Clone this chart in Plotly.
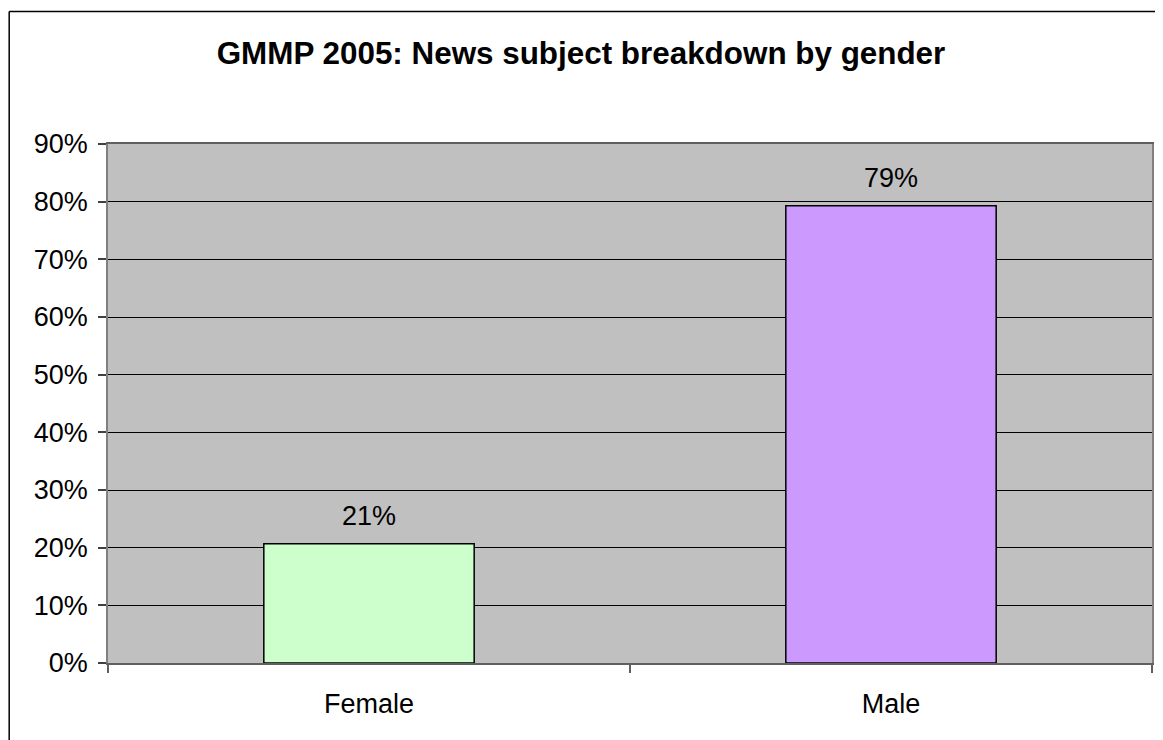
import plotly.graph_objects as go

categories = ["Female", "Male"]
values = [0.207, 0.793]
labels = ["21%", "79%"]
colors = ["#CCFFCC", "#CC99FF"]
title_text = "GMMP 2005: News subject breakdown by gender"

FONT = "Liberation Sans, Arial, sans-serif"

fig = go.Figure()
fig.add_trace(go.Bar(
    x=categories, y=values,
    marker=dict(color=colors, line=dict(color="black", width=1.5)),
    width=0.403,
    hoverinfo="skip",
))

for c, v, t in zip(categories, values, labels):
    fig.add_annotation(x=c, y=v, text=t, showarrow=False, yanchor="bottom",
                       yshift=11, font=dict(family=FONT, size=27, color="black"))

# page has an 8px body margin, so the figure is laid out in its own coordinates
W, H = 1155, 732
ml, mr, mt, mb = 100, 9, 136, 77
pw = W - ml - mr
ph = H - mt - mb

def px2paper_x(px):
    return (px - ml) / pw

def px2paper_y(py):
    return (H - mb - py) / ph

# outer frame (top and left)
fig.add_shape(type="line", xref="paper", yref="paper",
              x0=px2paper_x(1), x1=px2paper_x(W + 5), y0=px2paper_y(3.5), y1=px2paper_y(3.5),
              line=dict(color="black", width=1.5))
fig.add_shape(type="line", xref="paper", yref="paper",
              x0=px2paper_x(1), x1=px2paper_x(1), y0=px2paper_y(3.5), y1=px2paper_y(H + 5),
              line=dict(color="black", width=1.5))

fig.update_layout(
    width=W, height=H,
    margin=dict(l=ml, r=mr, t=mt, b=mb),
    paper_bgcolor="white",
    plot_bgcolor="#C0C0C0",
    showlegend=False,
    bargap=0.597,
    title=dict(text=title_text, x=(581 - 8) / W, xanchor="center", y=1 - 45 / H, yanchor="middle",
               yref="container", xref="container",
               font=dict(family=FONT, size=31.4, color="black", weight="bold")),
    font=dict(family=FONT, size=27, color="black"),
)
fig.update_xaxes(
    showgrid=False, showline=True, linecolor="#606060", linewidth=1.5, mirror=True,
    ticks="outside", ticklen=8, tickcolor="#606060", tickwidth=1.5, tickson="boundaries",
    ticklabelstandoff=16,
    tickfont=dict(family=FONT, size=27, color="black"),
)
fig.update_yaxes(
    range=[0, 0.9], dtick=0.1, tickformat=".0%",
    showgrid=True, gridcolor="black", gridwidth=1,
    showline=True, linecolor="#808080", linewidth=1.5, mirror=True,
    ticks="outside", ticklen=8, tickcolor="#404040", tickwidth=1.5,
    ticklabelstandoff=5,
    tickfont=dict(family=FONT, size=27, color="black"),
    zeroline=False,
)

fig.write_html("out.html")
